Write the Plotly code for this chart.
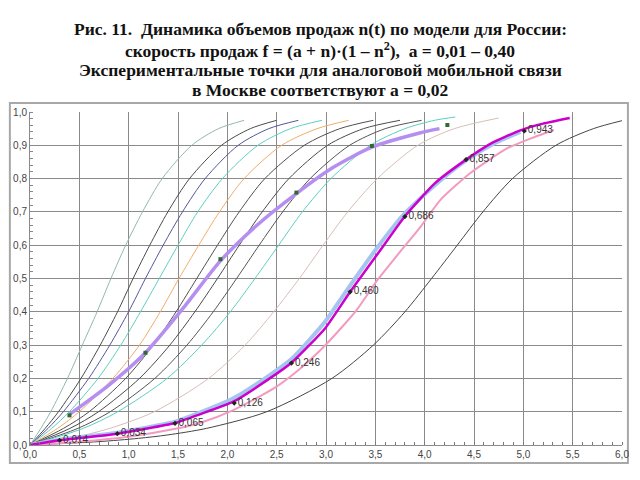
import plotly.graph_objects as go

# ---------------- data ----------------
n_levels = [0, 0.05, 0.1, 0.2, 0.3, 0.4, 0.5, 0.6, 0.7, 0.8, 0.9, 0.95, 0.975]

x_a040 = [0, 0.11, 0.21, 0.38, 0.53, 0.68, 0.82, 0.97, 1.14, 1.34, 1.64, 1.91, 2.17]
x_a030 = [0, 0.154, 0.289, 0.517, 0.712, 0.887, 1.045, 1.214, 1.397, 1.617, 1.941, 2.233, 2.50]
x_a025 = [0, 0.183, 0.338, 0.595, 0.809, 0.999, 1.17, 1.35, 1.545, 1.775, 2.11, 2.42, 2.72]
x_a020 = [0, 0.22, 0.40, 0.69, 0.92, 1.12, 1.31, 1.50, 1.70, 1.95, 2.31, 2.64, 2.96]
x_a015 = [0, 0.28, 0.50, 0.84, 1.11, 1.32, 1.51, 1.71, 1.92, 2.17, 2.55, 2.91, 3.23]
x_a012 = [0, 0.34, 0.60, 0.97, 1.25, 1.48, 1.69, 1.90, 2.12, 2.38, 2.78, 3.14, 3.48]
x_a010 = [0, 0.406, 0.695, 1.11, 1.417, 1.671, 1.90, 2.121, 2.353, 2.624, 3.016, 3.38, 3.75]
x_a008 = [0, 0.486, 0.813, 1.265, 1.591, 1.857, 2.094, 2.323, 2.561, 2.839, 3.239, 3.60, 3.97]

y_a007 = [0, 0.05, 0.1, 0.2, 0.3, 0.4, 0.5, 0.6, 0.7, 0.8, 0.9, 0.95, 0.975, 0.985]
x_a007 = [0, 0.54, 0.89, 1.39, 1.74, 2.03, 2.28, 2.52, 2.76, 3.05, 3.45, 3.80, 4.10, 4.31]

y_a004 = [0, 0.01, 0.02, 0.05, 0.1, 0.2, 0.3, 0.4, 0.5, 0.6, 0.7, 0.8, 0.9, 0.95, 0.982]
x_a004 = [0, 0.22, 0.41, 0.81, 1.26, 1.81, 2.18, 2.47, 2.73, 2.97, 3.22, 3.52, 3.93, 4.30, 4.75]

y_a001 = [0, 0.01, 0.02, 0.03, 0.05, 0.1, 0.2, 0.3, 0.4, 0.5, 0.6, 0.7, 0.8, 0.9, 0.95, 0.974]
x_a001 = [0, 0.69, 1.10, 1.39, 1.79, 2.40, 3.06, 3.48, 3.80, 4.07, 4.33, 4.59, 4.89, 5.33, 5.71, 6.0]

# thick curves
x_magenta = [0, 0.30, 0.885, 1.47, 1.72, 2.06, 2.43, 2.65, 2.99, 3.245, 3.55, 3.80, 4.10, 4.42, 4.67, 4.97, 5.2, 5.47]
y_magenta = [0, 0.014, 0.034, 0.066, 0.092, 0.13, 0.20, 0.247, 0.350, 0.46, 0.585, 0.687, 0.785, 0.857, 0.905, 0.945, 0.965, 0.982]

x_lblue = [0, 0.30, 0.885, 1.47, 1.72, 2.06, 2.43, 2.65, 2.99, 3.20, 3.50, 3.78, 4.14, 4.42, 4.70, 4.97]
y_lblue = [0, 0.016, 0.037, 0.07, 0.097, 0.14, 0.21, 0.258, 0.37, 0.46, 0.585, 0.69, 0.79, 0.855, 0.905, 0.94]

x_pink = [0, 0.5, 1.0, 1.5, 1.72, 2.06, 2.47, 2.74, 3.01, 3.31, 3.52, 3.75, 3.96, 4.16, 4.46, 4.83, 5.07, 5.31]
y_pink = [0, 0.01, 0.025, 0.05, 0.066, 0.105, 0.17, 0.23, 0.305, 0.405, 0.495, 0.58, 0.656, 0.736, 0.816, 0.89, 0.92, 0.946]

x_purple = [0.40, 0.80, 1.17, 1.55, 1.93, 2.30, 2.70, 3.07, 3.47, 3.95, 4.15]
y_purple = [0.092, 0.18, 0.277, 0.41, 0.553, 0.66, 0.755, 0.833, 0.895, 0.937, 0.950]

# experimental points
x_exp_moscow = [0.30, 0.885, 1.47, 2.07, 2.65, 3.245, 3.80, 4.42, 5.01]
y_exp_moscow = [0.014, 0.034, 0.065, 0.126, 0.246, 0.460, 0.686, 0.857, 0.943]
lbl_exp_moscow = ["0,014", "0,034", "0,065", "0,126", "0,246", "0,460", "0,686", "0,857", "0,943"]

x_exp_purple = [0.40, 1.17, 1.93, 2.70, 3.465, 4.23]
y_exp_purple = [0.089, 0.277, 0.558, 0.758, 0.898, 0.961]

x_ticks = [0, 0.5, 1.0, 1.5, 2.0, 2.5, 3.0, 3.5, 4.0, 4.5, 5.0, 5.5, 6.0]
x_tick_text = ["0,0", "0,5", "1,0", "1,5", "2,0", "2,5", "3,0", "3,5", "4,0", "4,5", "5,0", "5,5", "6,0"]
y_ticks = [0, 0.1, 0.2, 0.3, 0.4, 0.5, 0.6, 0.7, 0.8, 0.9, 1.0]
y_tick_text = ["0,0", "0,1", "0,2", "0,3", "0,4", "0,5", "0,6", "0,7", "0,8", "0,9", "1,0"]

title_lines = [
    "Рис. 11.  Динамика объемов продаж n(t) по модели для России:",
    "скорость продаж f = (a + n)·(1 – n<sup>2</sup>),  a = 0,01 – 0,40",
    "Экспериментальные точки для аналоговой мобильной связи",
    "в Москве соответствуют a = 0,02",
]

# ---------------- figure ----------------
fig = go.Figure()

thin = [
    (x_a040, n_levels, "#93b8aa"),
    (x_a030, n_levels, "#4a4a4a"),
    (x_a025, n_levels, "#55559a"),
    (x_a020, n_levels, "#5fcfbf"),
    (x_a015, n_levels, "#f0ad6a"),
    (x_a012, n_levels, "#505050"),
    (x_a010, n_levels, "#4a4a4a"),
    (x_a008, n_levels, "#555555"),
    (x_a007, y_a007, "#5ccfbf"),
    (x_a004, y_a004, "#d9bdb9"),
    (x_a001, y_a001, "#454545"),
]
for xs, ys, col in thin:
    fig.add_trace(go.Scatter(x=xs, y=ys, mode="lines",
                             line=dict(color=col, width=1, shape="spline", smoothing=0.8),
                             hoverinfo="skip", showlegend=False))

fig.add_trace(go.Scatter(x=x_lblue, y=y_lblue, mode="lines",
                         line=dict(color="#a6c4f0", width=4, shape="spline", smoothing=0.6),
                         showlegend=False))
fig.add_trace(go.Scatter(x=x_pink, y=y_pink, mode="lines",
                         line=dict(color="#f29ac0", width=2, shape="spline", smoothing=0.6),
                         showlegend=False))
fig.add_trace(go.Scatter(x=x_magenta, y=y_magenta, mode="lines",
                         line=dict(color="#cc00cc", width=2.5, shape="spline", smoothing=0.5),
                         showlegend=False))
fig.add_trace(go.Scatter(x=x_purple, y=y_purple, mode="lines",
                         line=dict(color="#b58ff0", width=3.5, shape="spline", smoothing=0.7),
                         showlegend=False))

fig.add_trace(go.Scatter(x=x_exp_moscow, y=y_exp_moscow, mode="markers+text",
                         marker=dict(color="#222222", size=4, symbol="diamond"),
                         text=lbl_exp_moscow, textposition="middle right",
                         textfont=dict(family="Liberation Sans", size=10, color="#333333"),
                         showlegend=False))
fig.add_trace(go.Scatter(x=x_exp_purple, y=y_exp_purple, mode="markers",
                         marker=dict(color="#2f6b2f", size=4, symbol="square"),
                         showlegend=False))

axis_common = dict(showgrid=True, gridcolor="#8a8a8a", gridwidth=1, zeroline=False,
                   showline=True, linecolor="#8a8a8a", linewidth=1, ticks="",
                   tickfont=dict(family="Liberation Sans", size=10, color="#444444"))

fig.update_xaxes(range=[0, 6.0], tickmode="array", tickvals=x_ticks, ticktext=x_tick_text,
                 minor=dict(dtick=0.1, ticks="inside", ticklen=3, tickcolor="#777777", showgrid=False),
                 **axis_common)
fig.update_yaxes(range=[0, 1.0], tickmode="array", tickvals=y_ticks, ticktext=y_tick_text,
                 minor=dict(dtick=0.02, ticks="inside", ticklen=3, tickcolor="#888888", showgrid=False),
                 **axis_common)

# outer frame around the chart
fig.add_shape(type="rect", xref="paper", yref="paper",
              x0=-0.034, x1=1.010, y0=-0.054, y1=1.027,
              line=dict(color="#a8a8a8", width=2), layer="below")

title_y = [1.249, 1.186, 1.126, 1.066]
for txt, yy in zip(title_lines, title_y):
    fig.add_annotation(text="<b>" + txt + "</b>", xref="paper", yref="paper",
                       x=(320 - 30) / 592, y=yy, xanchor="center", yanchor="middle",
                       showarrow=False,
                       font=dict(family="Liberation Serif", size=17.5, color="#111111"))

fig.update_layout(width=640, height=480,
                  margin=dict(l=30, r=18, t=112, b=35),
                  paper_bgcolor="white", plot_bgcolor="white")

fig.write_html("out.html")
